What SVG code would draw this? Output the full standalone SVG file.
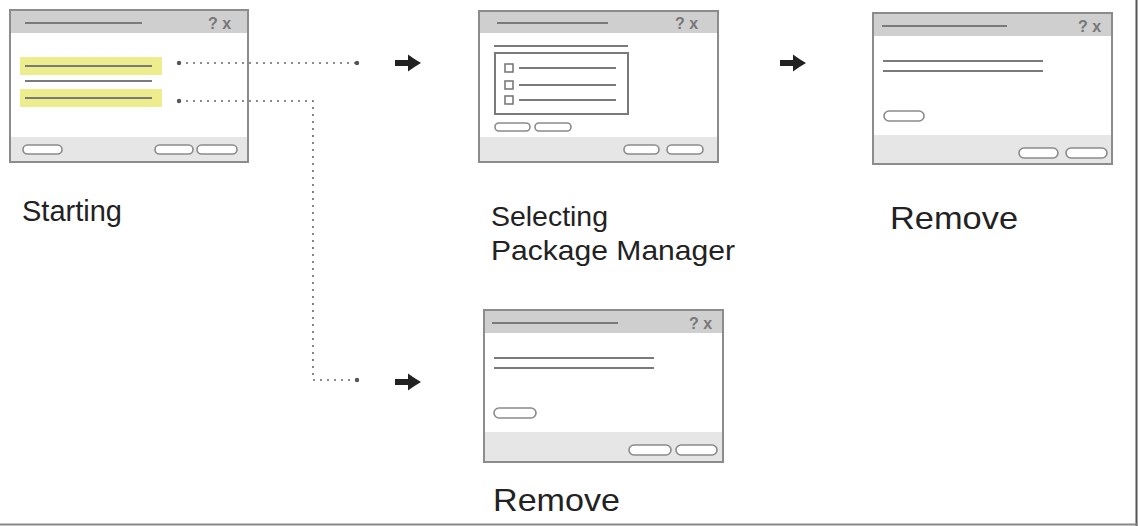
<svg xmlns="http://www.w3.org/2000/svg" width="1138" height="526" viewBox="0 0 1138 526">
<style>
.frame{fill:#fff;stroke:#8c8c8c;stroke-width:2}
.title{fill:#cfcfcf}
.foot{fill:#e6e6e6}
.ln{stroke:#7a7a7a;stroke-width:2;fill:none}
.pill{fill:#fff;stroke:#8a8a8a;stroke-width:1.6}
.hl{fill:#eded8e}
.qx{font-family:"Liberation Sans",Arial,sans-serif;font-size:16px;font-weight:bold;fill:#777}
.lbl{font-family:"Liberation Sans",Arial,sans-serif;fill:#222}
.dot{stroke:#666;stroke-width:1.6;fill:none;stroke-dasharray:2 5}
.end{fill:#555}
.chk{fill:#fff;stroke:#7a7a7a;stroke-width:1.6}
</style>
<defs>
<path id="arr" d="M-13,-3 H0 V-8.5 Q6,-4 13,0 Q6,4 0,8.5 V3 H-13 Z" fill="#222"/>
</defs>
<rect x="0" y="0" width="1138" height="526" fill="#fff"/>

<g id="starting">
<rect class="frame" x="10" y="10" width="238" height="152"/>
<rect class="title" x="11" y="11" width="236" height="22"/>
<rect class="foot" x="11" y="137" width="236" height="24"/>
<line class="ln" x1="25" y1="23" x2="142" y2="23"/>
<text class="qx" x="208" y="29">? x</text>
<rect class="hl" x="20" y="57" width="142" height="18"/>
<line class="ln" x1="25" y1="66" x2="152" y2="66"/>
<line class="ln" x1="25" y1="81" x2="152" y2="81"/>
<rect class="hl" x="20" y="89" width="142" height="18"/>
<line class="ln" x1="25" y1="98" x2="152" y2="98"/>
<rect class="pill" x="23" y="145" width="39" height="9" rx="4.5"/>
<rect class="pill" x="155" y="145" width="38" height="9" rx="4.5"/>
<rect class="pill" x="197" y="145" width="40" height="9" rx="4.5"/>
<text class="lbl" x="22" y="221" font-size="29" textLength="100" lengthAdjust="spacingAndGlyphs">Starting</text>
</g>

<g id="selecting">
<rect class="frame" x="479" y="11" width="239" height="151"/>
<rect class="title" x="480" y="12" width="237" height="21"/>
<rect class="foot" x="480" y="137" width="237" height="24"/>
<line class="ln" x1="497" y1="23" x2="608" y2="23"/>
<text class="qx" x="675" y="29">? x</text>
<line class="ln" x1="494" y1="46" x2="628" y2="46"/>
<rect x="495" y="53" width="133" height="61" fill="#fff" stroke="#7a7a7a" stroke-width="2"/>
<rect class="chk" x="505" y="64" width="8" height="8"/>
<rect class="chk" x="505" y="81" width="8" height="8"/>
<rect class="chk" x="505" y="96" width="8" height="8"/>
<line class="ln" x1="519" y1="68" x2="616" y2="68"/>
<line class="ln" x1="519" y1="85" x2="616" y2="85"/>
<line class="ln" x1="519" y1="100" x2="616" y2="100"/>
<rect class="pill" x="495" y="123" width="35" height="8" rx="4"/>
<rect class="pill" x="535" y="123" width="36" height="8" rx="4"/>
<rect class="pill" x="624" y="145" width="35" height="9" rx="4.5"/>
<rect class="pill" x="667" y="145" width="36" height="9" rx="4.5"/>
<text class="lbl" x="491" y="226" font-size="28" textLength="117" lengthAdjust="spacingAndGlyphs">Selecting</text>
<text class="lbl" x="491" y="260" font-size="28" textLength="244" lengthAdjust="spacingAndGlyphs">Package Manager</text>
</g>

<g id="remove-top">
<rect class="frame" x="873" y="13" width="239" height="151"/>
<rect class="title" x="874" y="14" width="237" height="22"/>
<rect class="foot" x="874" y="135" width="237" height="28"/>
<line class="ln" x1="882" y1="26" x2="1007" y2="26"/>
<text class="qx" x="1078" y="32">? x</text>
<line class="ln" x1="883" y1="61" x2="1043" y2="61"/>
<line class="ln" x1="883" y1="71" x2="1043" y2="71"/>
<rect class="pill" x="884" y="111" width="40" height="10" rx="5"/>
<rect class="pill" x="1019" y="148" width="39" height="10" rx="5"/>
<rect class="pill" x="1066" y="148" width="41" height="10" rx="5"/>
<text class="lbl" x="890" y="229" font-size="32" textLength="128" lengthAdjust="spacingAndGlyphs">Remove</text>
</g>

<g id="remove-bottom">
<rect class="frame" x="484" y="310" width="239" height="152"/>
<rect class="title" x="485" y="311" width="237" height="22"/>
<rect class="foot" x="485" y="432" width="237" height="29"/>
<line class="ln" x1="492" y1="323" x2="618" y2="323"/>
<text class="qx" x="689" y="329">? x</text>
<line class="ln" x1="494" y1="358" x2="654" y2="358"/>
<line class="ln" x1="494" y1="368" x2="654" y2="368"/>
<rect class="pill" x="494" y="408" width="42" height="10" rx="5"/>
<rect class="pill" x="629" y="445" width="42" height="10" rx="5"/>
<rect class="pill" x="676" y="445" width="41" height="10" rx="5"/>
<text class="lbl" x="493" y="511" font-size="32" textLength="127" lengthAdjust="spacingAndGlyphs">Remove</text>
</g>

<g id="connectors">
<path class="dot" d="M179,63 H357"/>
<path class="dot" d="M179,101 H313 V380 H357"/>
<circle class="end" cx="179" cy="63" r="2.2"/>
<circle class="end" cx="357" cy="63" r="2.2"/>
<circle class="end" cx="179" cy="101" r="2.2"/>
<circle class="end" cx="357" cy="380" r="2.2"/>
<use href="#arr" x="408" y="63"/>
<use href="#arr" x="793" y="63"/>
<use href="#arr" x="408" y="382"/>
</g>

<line x1="1136.5" y1="0" x2="1136.5" y2="526" stroke="#555" stroke-width="2"/>
<line x1="0" y1="524.5" x2="1138" y2="524.5" stroke="#888" stroke-width="2"/>
</svg>
